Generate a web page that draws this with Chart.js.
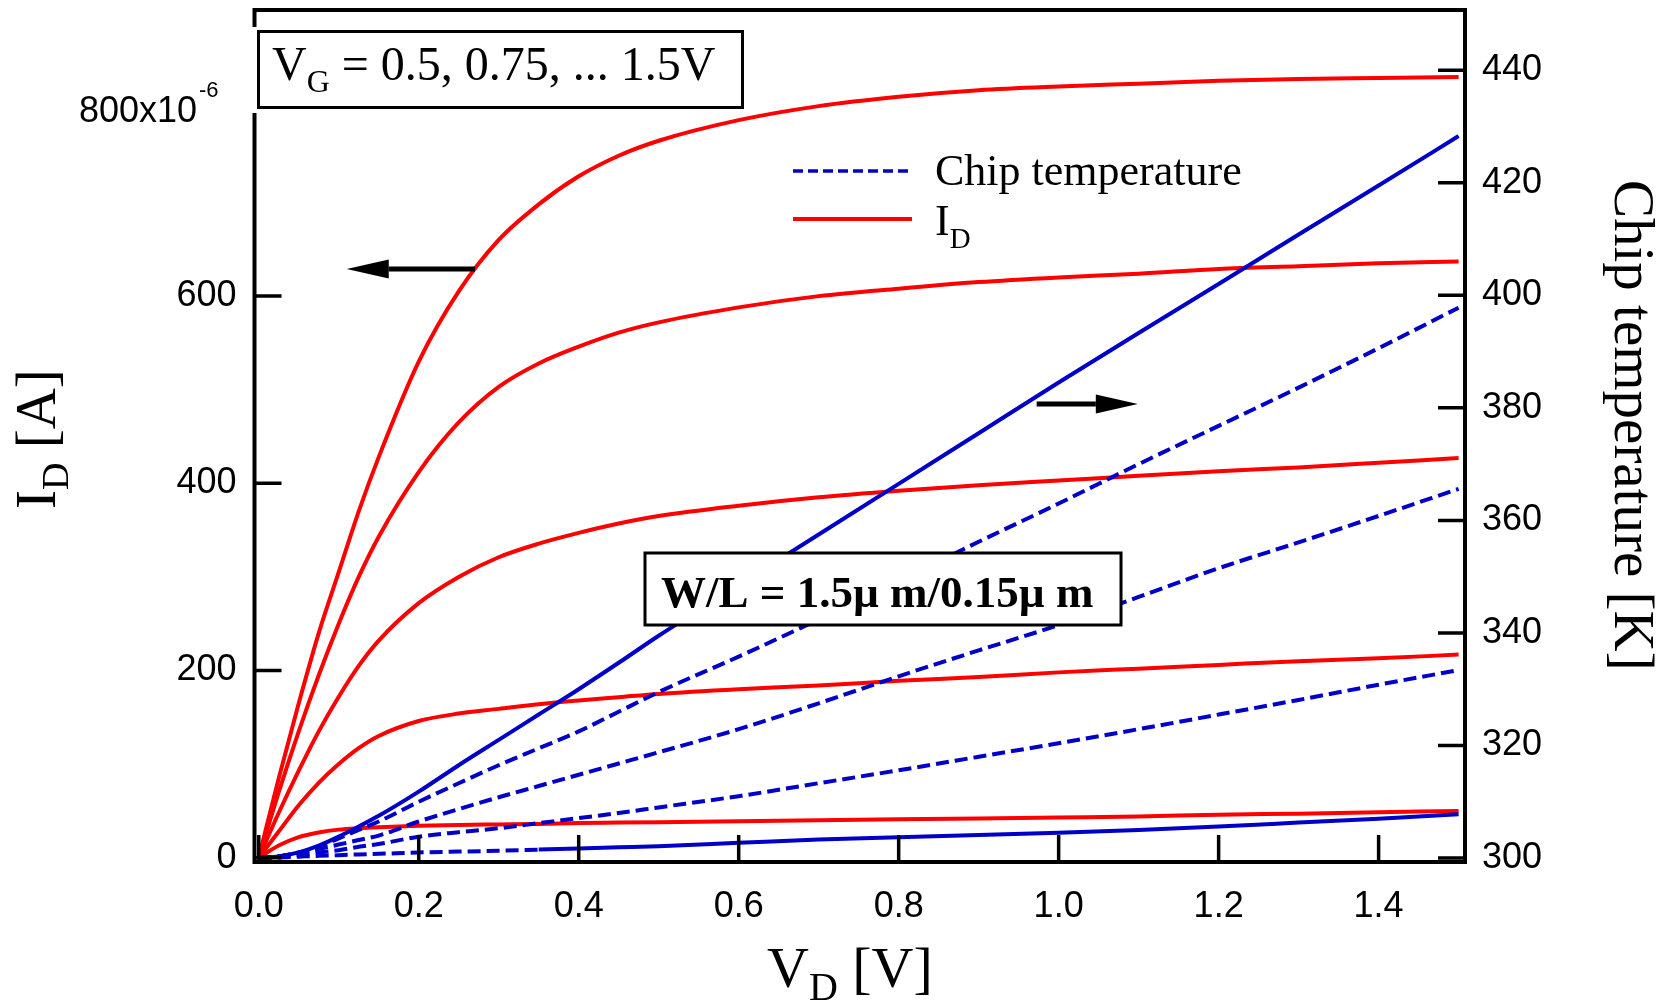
<!DOCTYPE html>
<html>
<head>
<meta charset="utf-8">
<title>I_D and chip temperature vs V_D</title>
<script src="https://cdn.jsdelivr.net/npm/chart.js"></script>
<style>
  html, body { margin: 0; padding: 0; background: #fff; }
  canvas { display: block; }
</style>
</head>
<body>
<canvas id="chart" width="1666" height="1001"></canvas>
<script>
// drain voltage samples [V]
const vd = [0, 0.025, 0.05, 0.075, 0.1, 0.125, 0.15, 0.2, 0.25, 0.3, 0.35, 0.4, 0.45, 0.5, 0.6, 0.7, 0.8, 0.9, 1.0, 1.1, 1.2, 1.3, 1.4, 1.5];

// drain current [x10^-6 A], one list per gate voltage
const id150 = [0, 85, 165, 240, 305, 370, 428, 530, 605, 660, 698, 728, 750, 766, 788, 803, 813, 820, 824, 827, 830, 832, 833, 834];
const id125 = [0, 70, 135, 195, 250, 300, 343, 412, 465, 503, 528, 546, 561, 572, 588, 600, 608, 615, 620, 624, 629, 632, 635, 637];
const id100 = [0, 48, 93, 135, 172, 205, 232, 272, 300, 321, 335.5, 347, 357, 365, 376, 385, 392, 398, 403, 408, 413, 417, 422, 427];
const id075 = [0, 28, 56, 80, 100, 117, 130, 146, 154, 159, 164, 168, 171.5, 175, 180, 184, 189, 193, 198, 202, 206, 210, 213, 217];
const id050 = [0, 13, 22, 27, 30, 31.5, 32.5, 34, 35, 35.5, 36, 37, 37.5, 38, 39, 40, 41, 42, 43, 44, 46, 47, 48.5, 50];

// chip temperature [K], same gate voltages
const temp150 = [300, 300.3, 301, 302.2, 303.8, 305.6, 307.5, 311.8, 316.5, 321, 325.5, 330, 334.7, 339.5, 348.5, 357.5, 366.5, 375.5, 384.5, 393.3, 402, 410.8, 419.5, 428.3];
const temp125 = [300, 300.3, 301, 302, 303.5, 305, 306.5, 310, 313.3, 316.5, 319.5, 322.5, 326, 329.5, 335.8, 342.4, 349.2, 356.2, 363, 370, 376.8, 383.6, 390.6, 397.8];
const temp100 = [300, 300.3, 300.9, 301.6, 302.4, 303.2, 304, 306.5, 308.7, 310.8, 312.8, 314.8, 316.8, 318.8, 322.9, 327.5, 332.3, 336.9, 341.4, 346.4, 351.5, 356.1, 360.8, 365.6];
const temp075 = [300, 300.3, 300.6, 301, 301.4, 302, 302.5, 303.8, 304.6, 305.3, 306.2, 307.1, 308, 309, 311, 313.3, 315.6, 318, 320.4, 322.9, 325.5, 328.1, 330.8, 333.4];
const temp050 = [300, 300.1, 300.25, 300.4, 300.5, 300.65, 300.75, 301, 301.15, 301.3, 301.5, 301.7, 301.9, 302.1, 302.7, 303.3, 303.7, 304.1, 304.5, 305, 305.6, 306.3, 307, 307.8];

// tick values
const xTicks = [0, 0.2, 0.4, 0.6, 0.8, 1.0, 1.2, 1.4];
const idTicks = [0, 200, 400, 600, 800];
const tempTicks = [300, 320, 340, 360, 380, 400, 420, 440];

// arrows pointing at the axis each family belongs to
const arrowId = { from: 0.2704, to: 0.11, value: 629 };
const arrowTemp = { from: 0.9725, to: 1.099, value: 380.7 };

const RED = '#ff0000';
const BLUE = '#0000c8';
const DASH = [13, 6];
const TICK = 27;
const SANS = '"Liberation Sans", Arial, sans-serif';
const SERIF = '"Liberation Serif", "Times New Roman", serif';

const pts = arr => arr.map((v, i) => ({ x: vd[i], y: v }));

const line = (data, color, axis, width) => ({
    data: pts(data),
    yAxisID: axis,
    borderColor: color,
    borderWidth: width,
    pointRadius: 0,
    fill: false,
    cubicInterpolationMode: 'monotone'
});

// blue first so it is drawn on top of the red curves
const datasets = [
    line(temp150, BLUE, 'y2', 4),
    { ...line(temp125, BLUE, 'y2', 4), borderDash: DASH },
    { ...line(temp100, BLUE, 'y2', 4), borderDash: DASH },
    { ...line(temp075, BLUE, 'y2', 4), borderDash: DASH },
    { ...line(temp050, BLUE, 'y2', 4), segment: { borderDash: c => c.p1.parsed.x <= 0.375 ? DASH : undefined } },
    line(id150, RED, 'y', 4),
    line(id125, RED, 'y', 4),
    line(id100, RED, 'y', 4),
    line(id075, RED, 'y', 4),
    line(id050, RED, 'y', 4)
];

// text with a subscript in the middle, returns the end x
function subText(ctx, x, y, main, sub, rest, size, subSize, drop, weight) {
    const w = weight || '';
    ctx.font = `${w} ${size}px ${SERIF}`;
    ctx.fillText(main, x, y);
    x += ctx.measureText(main).width;
    ctx.font = `${w} ${subSize}px ${SERIF}`;
    ctx.fillText(sub, x, y + drop);
    x += ctx.measureText(sub).width;
    ctx.font = `${w} ${size}px ${SERIF}`;
    ctx.fillText(rest, x, y);
    return x + ctx.measureText(rest).width;
}

function arrow(ctx, x1, x2, y) {
    const dir = Math.sign(x2 - x1), head = 42, half = 9.5;
    ctx.lineWidth = 5;
    ctx.beginPath();
    ctx.moveTo(x1, y);
    ctx.lineTo(x2 - dir * head, y);
    ctx.stroke();
    ctx.beginPath();
    ctx.moveTo(x2, y);
    ctx.lineTo(x2 - dir * head, y - half);
    ctx.lineTo(x2 - dir * head, y + half);
    ctx.closePath();
    ctx.fill();
}

const decor = {
    id: 'decor',
    afterDraw(chart) {
        const { ctx, chartArea: a } = chart;
        const sx = chart.scales.x, sy = chart.scales.y, st = chart.scales.y2;
        ctx.save();
        ctx.strokeStyle = '#000';
        ctx.fillStyle = '#000';

        // inward tick marks
        ctx.lineWidth = 3.5;
        ctx.beginPath();
        sx.ticks.forEach(t => {
            const p = sx.getPixelForValue(t.value);
            ctx.moveTo(p, a.bottom); ctx.lineTo(p, a.bottom - TICK);
        });
        sy.ticks.forEach(t => {
            const p = sy.getPixelForValue(t.value);
            ctx.moveTo(a.left, p); ctx.lineTo(a.left + TICK, p);
        });
        st.ticks.forEach(t => {
            const p = st.getPixelForValue(t.value);
            ctx.moveTo(a.right, p); ctx.lineTo(a.right - TICK, p);
        });
        ctx.stroke();

        // frame
        ctx.lineWidth = 4;
        ctx.strokeRect(a.left, a.top, a.right - a.left, a.bottom - a.top);

        // 800x10^-6 label
        const y800 = sy.getPixelForValue(800);
        ctx.textBaseline = 'alphabetic';
        ctx.textAlign = 'right';
        ctx.font = `36px ${SANS}`;
        ctx.fillText('800x10', 197, y800 + 13);
        ctx.textAlign = 'left';
        ctx.font = `22px ${SANS}`;
        ctx.fillText('-6', 199, y800 - 12);

        // gate voltage box
        ctx.fillStyle = '#fff';
        ctx.fillRect(249, 27, 495, 86);
        ctx.fillStyle = '#000';
        ctx.lineWidth = 3;
        ctx.strokeRect(258.5, 31.5, 484, 76);
        subText(ctx, 272, 80, 'V', 'G', ' = 0.5, 0.75, ... 1.5V', 48, 32, 12);

        // W/L box
        ctx.fillStyle = '#fff';
        ctx.fillRect(645, 553, 476, 72);
        ctx.fillStyle = '#000';
        ctx.strokeRect(645, 553, 476, 72);
        ctx.font = `bold 45px ${SERIF}`;
        ctx.fillText('W/L = 1.5\u00b5 m/0.15\u00b5 m', 661, 607);

        // legend
        ctx.lineWidth = 3.5;
        ctx.strokeStyle = BLUE;
        ctx.setLineDash([10, 5]);
        ctx.beginPath(); ctx.moveTo(793, 171); ctx.lineTo(909, 171); ctx.stroke();
        ctx.setLineDash([]);
        ctx.strokeStyle = RED;
        ctx.lineWidth = 4;
        ctx.beginPath(); ctx.moveTo(793, 219); ctx.lineTo(912, 219); ctx.stroke();
        ctx.font = `44px ${SERIF}`;
        ctx.fillText('Chip temperature', 935, 185);
        subText(ctx, 935, 235, 'I', 'D', '', 44, 29, 13);

        // arrows
        ctx.strokeStyle = '#000';
        const ya = sy.getPixelForValue(arrowId.value);
        arrow(ctx, sx.getPixelForValue(arrowId.from), sx.getPixelForValue(arrowId.to), ya);
        const yb = st.getPixelForValue(arrowTemp.value);
        arrow(ctx, sx.getPixelForValue(arrowTemp.from), sx.getPixelForValue(arrowTemp.to), yb);

        // axis titles
        subText(ctx, 767, 987, 'V', 'D', ' [V]', 58, 40, 13);

        ctx.save();
        ctx.translate(55, 509);
        ctx.rotate(-Math.PI / 2);
        subText(ctx, 0, 0, 'I', 'D', ' [A]', 57, 38, 13);
        ctx.restore();

        ctx.save();
        ctx.translate(1615, 180);
        ctx.rotate(Math.PI / 2);
        ctx.font = `57px ${SERIF}`;
        ctx.fillText('Chip temperature [K]', 0, 0);
        ctx.restore();

        ctx.restore();
    }
};

const tickFont = { family: SANS, size: 36 };

// keep the plot frame where the reference has it: no label overhang padding
const noPad = s => { s.paddingTop = 0; s.paddingBottom = 0; s.paddingLeft = 0; s.paddingRight = 0; };

new Chart(document.getElementById('chart').getContext('2d'), {
    type: 'line',
    data: { datasets },
    plugins: [decor],
    options: {
        responsive: false,
        animation: false,
        layout: { padding: { top: 10, left: 0, right: 0, bottom: 0 } },
        plugins: { legend: { display: false }, tooltip: { enabled: false } },
        scales: {
            x: {
                type: 'linear',
                min: -0.0053,
                max: 1.508,
                grid: { display: false, drawTicks: false },
                border: { display: false },
                afterBuildTicks: s => { s.ticks = xTicks.map(v => ({ value: v })); },
                afterFit: s => { s.height = 139; noPad(s); },
                ticks: { font: tickFont, color: '#000', padding: 23, maxRotation: 0, autoSkip: false,
                         callback: v => v.toFixed(1) }
            },
            y: {
                position: 'left',
                min: -4.6,
                max: 905.7,
                grid: { display: false, drawTicks: false },
                border: { display: false },
                afterBuildTicks: s => { s.ticks = idTicks.map(v => ({ value: v })); },
                afterFit: s => { s.width = 254.5; noPad(s); },
                ticks: { font: tickFont, color: '#000', padding: 18, autoSkip: false,
                         callback: v => v === 800 ? '' : String(v) }
            },
            y2: {
                position: 'right',
                min: 299.3,
                max: 450.7,
                grid: { display: false, drawTicks: false },
                border: { display: false },
                afterBuildTicks: s => { s.ticks = tempTicks.map(v => ({ value: v })); },
                afterFit: s => { s.width = 201; noPad(s); },
                ticks: { font: tickFont, color: '#000', padding: 17, autoSkip: false,
                         callback: v => String(v) }
            }
        }
    }
});
</script>
</body>
</html>
